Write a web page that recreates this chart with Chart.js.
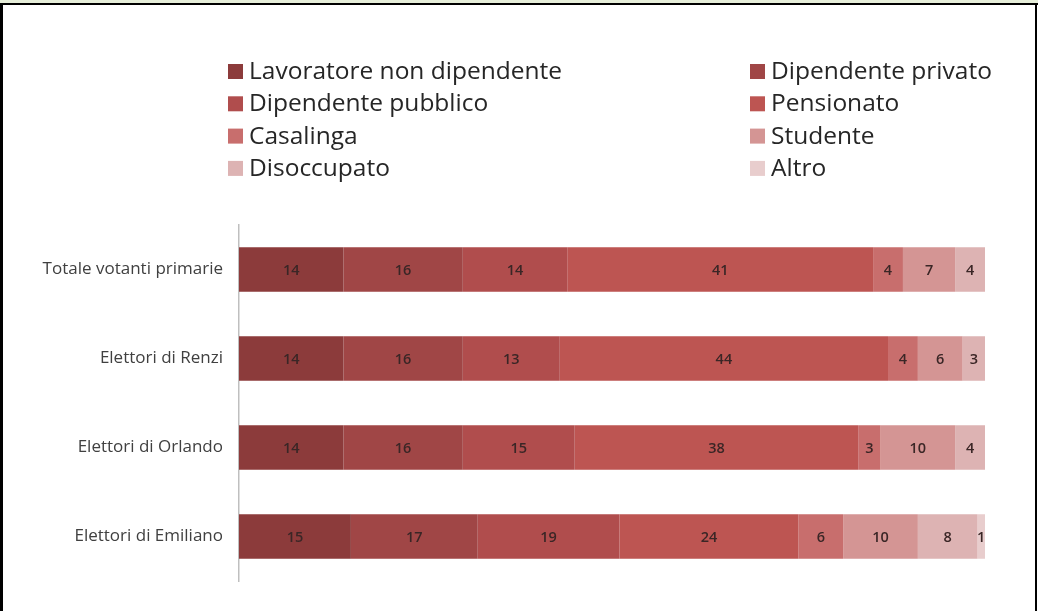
<!DOCTYPE html>
<html>
<head>
<meta charset="utf-8">
<script src="https://cdn.jsdelivr.net/npm/chart.js@4"></script>
<style>
  body { margin: 0; background: #fff; }
  #wrap { position: relative; width: 1038px; height: 611px; overflow: hidden; background: #fff; }
  #strip { position: absolute; left: 0; top: 0; width: 1038px; height: 3px; background: #e6eed9; }
  #topline { position: absolute; left: 0; top: 3px; width: 1038px; height: 2px; background: #000; }
  #leftline { position: absolute; left: 0; top: 3px; width: 3px; height: 608px; background: #000; }
  #rightline { position: absolute; right: 1px; top: 3px; width: 2px; height: 608px; background: #000; }
  canvas { position: absolute; left: 0; top: 0; }
</style>
</head>
<body>
<div id="wrap">
  <canvas id="chart" width="1038" height="611"></canvas>
  <div id="strip"></div>
  <div id="topline"></div>
  <div id="leftline"></div>
  <div id="rightline"></div>
</div>
<script>
// categorie (barre) e serie
const categorie = ['Totale votanti primarie', 'Elettori di Renzi', 'Elettori di Orlando', 'Elettori di Emiliano'];
const serie = ['Lavoratore non dipendente', 'Dipendente privato', 'Dipendente pubblico', 'Pensionato',
               'Casalinga', 'Studente', 'Disoccupato', 'Altro'];
const colori = ['#8c3b3b', '#a04646', '#b04d4d', '#bd5552', '#c86e6d', '#d49594', '#ddb3b3', '#e8cdcd'];

// valori per serie (un valore per categoria)
const lavoratoreNonDip = [14, 14, 14, 15];
const dipPrivato = [16, 16, 16, 17];
const dipPubblico = [14, 13, 15, 19];
const pensionato = [41, 44, 38, 24];
const casalinga = [4, 4, 3, 6];
const studente = [7, 6, 10, 10];
const disoccupato = [4, 3, 4, 8];
const altro = [0, 0, 0, 1];

const valori = [lavoratoreNonDip, dipPrivato, dipPubblico, pensionato, casalinga, studente, disoccupato, altro];

const FONT = '"Open Sans", sans-serif';

// etichette dei valori al centro di ogni segmento
const etichette = {
  id: 'etichette',
  afterDatasetsDraw(chart) {
    const ctx = chart.ctx;
    ctx.save();
    ctx.font = '600 14.5px ' + FONT;
    ctx.fillStyle = '#3a2626';
    ctx.textAlign = 'center';
    ctx.textBaseline = 'middle';
    chart.data.datasets.forEach((ds, i) => {
      chart.getDatasetMeta(i).data.forEach((bar, j) => {
        const v = ds.data[j];
        if (!v) return;
        ctx.fillText(v, (bar.x + bar.base) / 2, bar.y + 1);
      });
    });
    ctx.restore();
  }
};

// legenda su due colonne
const legenda = {
  id: 'legenda',
  afterDraw(chart) {
    const ctx = chart.ctx;
    ctx.save();
    ctx.font = '24.5px ' + FONT;
    ctx.textBaseline = 'middle';
    chart.data.datasets.forEach((ds, i) => {
      const col = i % 2, row = Math.floor(i / 2);
      const x = col === 0 ? 228 : 750;
      const y = 71 + row * 32.3;
      ctx.fillStyle = ds.backgroundColor;
      ctx.fillRect(x, y - 7, 15, 15);
      ctx.fillStyle = '#262626';
      ctx.fillText(ds.label, x + 21, y + 1);
    });
    ctx.restore();
  }
};

const ctx = document.getElementById('chart').getContext('2d');
new Chart(ctx, {
  type: 'bar',
  data: {
    labels: categorie,
    datasets: serie.map((nome, i) => ({
      label: nome,
      data: valori[i],
      backgroundColor: colori[i],
      borderWidth: 0,
      categoryPercentage: 1,
      barPercentage: 0.5
    }))
  },
  options: {
    indexAxis: 'y',
    responsive: false,
    animation: false,
    layout: { padding: { left: 0, top: 225, right: 53, bottom: 30 } },
    plugins: {
      legend: { display: false },
      tooltip: { enabled: false }
    },
    scales: {
      x: { stacked: true, min: 0, max: 100, display: false },
      y: {
        stacked: true,
        grid: { display: false, drawTicks: false },
        border: { display: true, color: '#bfbfbf', width: 1.5 },
        ticks: { color: '#404040', font: { family: FONT, size: 17 }, padding: 16 },
        afterFit(scale) { scale.width = 239; }
      }
    }
  },
  plugins: [etichette, legenda]
});
</script>
</body>
</html>
